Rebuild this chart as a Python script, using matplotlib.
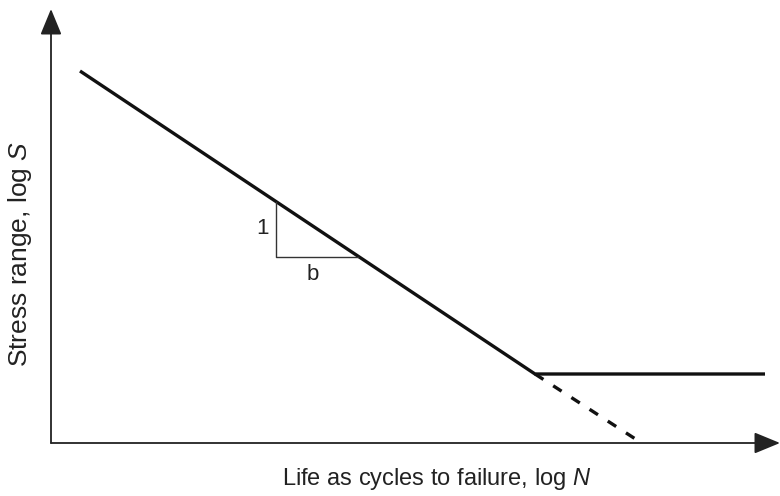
import matplotlib
matplotlib.use("Agg")
from matplotlib import pyplot as plt

plt.rcParams['font.family'] = ['Liberation Sans', 'DejaVu Sans']
plt.rcParams['mathtext.fontset'] = 'custom'
plt.rcParams['mathtext.rm'] = 'Liberation Sans'
plt.rcParams['mathtext.it'] = 'Liberation Sans:italic'

# schematic S-N curve (log N, log S), arbitrary units
sn_logN = [0.29, 4.84, 7.14]
sn_logS = [3.72, 0.69, 0.69]
# extension of the sloped part below the fatigue limit
ext_logN = [4.84, 5.86]
ext_logS = [0.69, 0.03]
# slope triangle
tri_logN = [2.25, 2.25, 3.07]
tri_logS = [2.41, 1.86, 1.86]

fig = plt.figure(figsize=(7.8, 4.96), dpi=100)
ax = fig.add_axes([0, 0, 1, 1])
ax.set_xlim(-0.51, 7.29)
ax.set_ylim(-0.53, 4.43)
ax.axis('off')

# axes with arrow heads
arrow = dict(arrowstyle='-|>,head_length=0.8,head_width=0.33', mutation_scale=20,
             lw=1.3, color='#222222', shrinkA=0, shrinkB=0)
ax.annotate('', xy=(0, 4.34), xytext=(0, 0), arrowprops=arrow)
ax.annotate('', xy=(7.29, 0), xytext=(0, 0), arrowprops=arrow)

ax.plot(sn_logN, sn_logS, color='#111111', lw=2.4, solid_capstyle='butt')
ax.plot(ext_logN, ext_logS, color='#111111', lw=2.4, ls=(0, (3, 3.5)))
ax.plot(tri_logN, tri_logS, color='#333333', lw=1.0)

ax.text(2.12, 2.14, '1', fontsize=16, ha='center', va='center', color='#222222')
ax.text(2.62, 1.68, 'b', fontsize=16, ha='center', va='center', color='#222222')

ax.text(3.86, -0.36, 'Life as cycles to failure, log $N$', fontsize=17,
        ha='center', va='center', color='#222222')
ax.text(-0.31, 1.89, 'Stress range, log $S$', fontsize=19, rotation=90,
        ha='center', va='center', color='#222222')

fig.savefig('out.png', dpi=100)
